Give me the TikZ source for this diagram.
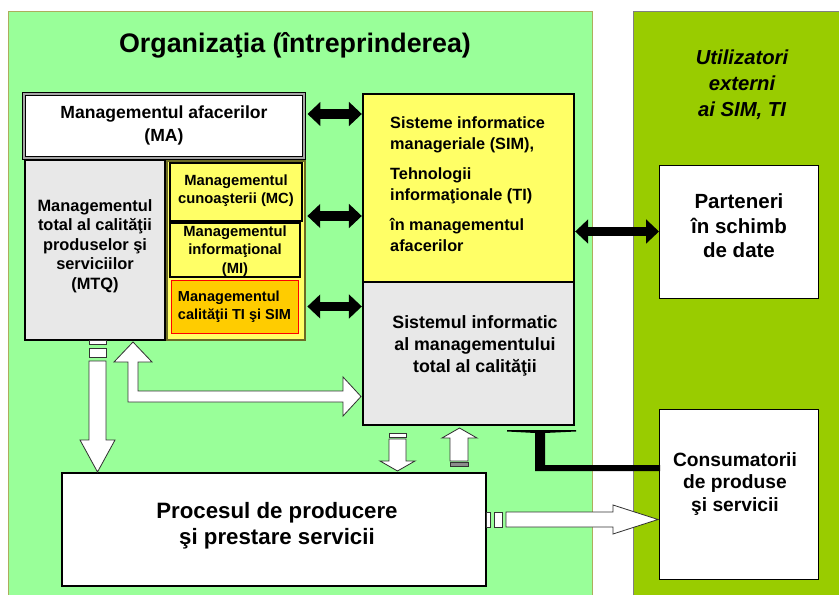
\documentclass[tikz,border=0pt]{standalone}
\usepackage{fontspec}
\setmainfont{Liberation Sans}
\usepackage{tikz}
\usetikzlibrary{positioning,fit,calc,arrows.meta}
\definecolor{orggreen}{HTML}{99FF99}
\definecolor{extgreen}{HTML}{99CC00}
\definecolor{simyellow}{HTML}{FFFF66}
\definecolor{mtiorange}{HTML}{FFCC00}
\definecolor{granite}{HTML}{E8E8E8}
\definecolor{olivefr}{HTML}{999933}
\newcommand{\fsz}[2]{\fontsize{#1}{#2}\selectfont\bfseries}

\begin{document}
\begin{tikzpicture}[x=0.03cm, y=-0.03cm, every fit/.style={inner sep=0pt, outer sep=0pt},
    box/.style={draw, line width=0.8pt},
    lbl/.style={align=center, inner sep=0pt},
    dblarr/.style={line width=7.7pt, {Triangle[length=11pt,width=20pt]}-{Triangle[length=11pt,width=20pt]}},
    whitearr/.style={draw=black!80, line width=0.7pt, fill=white}]
  \useasboundingbox (0,0) rectangle (839,595);
  % panels
  \fill[orggreen] (8,11) rectangle (592,595);
  \draw[olivefr!80, line width=0.6pt] (8,595) -- (8,11) -- (592,11) -- (592,595);
  \fill[extgreen] (633,11) rectangle (839,595);
  \draw[gray, line width=0.5pt] (633,595) -- (633,11) -- (839,11);
  \node[lbl, font=\fsz{22.9}{27}] (org) at (295,45) {Organizaţia (întreprinderea)};
  \node[lbl, font=\fsz{17.3}{22}\itshape] (ext) at (742,85) {Utilizatori\\externi\\ ai SIM, TI};
  % left block
  \node[box, fill=white, line width=1.1pt, double=gray!70, double distance=0.9pt, fit={(24,94) (304,158)}] (ma) {};
  \node[lbl, font=\fsz{15}{19.6}] (matxt) at (164,125) {Managementul afacerilor\\(MA)};
  \node[box, fill=granite, line width=1.5pt, fit={(25,160) (165,340)}] (mtq) {};
  \node[lbl, font=\fsz{14}{16.6}] (mtqtxt) at (95,246) {Managementul\\total al calităţii\\produselor şi\\serviciilor\\(MTQ)};
  \node[draw=olivefr!70!black, line width=1.2pt, fill=simyellow, fit={(167,161) (305,340)}] (colfr) {};
  \node[box, fill=simyellow, line width=1pt, fit={(170,163) (302,221)}] (mc) {};
  \node[lbl, font=\fsz{12.6}{15.4}] (mctxt) at (236,191) {Managementul\\cunoaşterii (MC)};
  \node[box, fill=simyellow, line width=1pt, fit={(170,223) (300,277)}] (mi) {};
  \node[lbl, font=\fsz{12.6}{15.8}] (mitxt) at (235,251) {Managementul\\informaţional\\(MI)};
  \node[draw=red, line width=0.6pt, fill=mtiorange, fit={(171,280) (298,333)}] (mti) {};
  \node[lbl, align=left, font=\fsz{12.4}{15.4}] (mtitxt) at (234.5,307) {Managementul\\calităţii TI şi SIM};
  % right block
  \node[box, fill=simyellow, line width=2.5pt, fit={(363,94) (574,282)}] (sim) {};
  \node[lbl, align=left, anchor=west, font=\fsz{13.9}{17.5}] (simtxt) at (390,184) {Sisteme informatice\\manageriale (SIM),\\[8.5pt]Tehnologii\\informaţionale (TI)\\[8.5pt]în managementul\\afacerilor};
  \node[box, fill=granite, line width=2.5pt, fit={(363,282) (574,425)}] (simq) {};
  \node[lbl, font=\fsz{15.2}{18.8}] (simqtxt) at (475,346) {Sistemul informatic\\al managementului\\total al calităţii};
  \node[box, fill=white, line width=1pt, fit={(62,473) (486,586)}] (proc) {};
  \node[lbl, font=\fsz{19}{22.2}] (proctxt) at (277,526) {Procesul de producere\\şi prestare servicii};
  % external
  \node[box, fill=white, line width=0.6pt, fit={(659,165) (818,298)}] (part) {};
  \node[lbl, font=\fsz{17.5}{21}] (parttxt) at (739,226) {Parteneri\\în schimb\\ de date};
  \node[box, fill=white, line width=0.6pt, fit={(659,409) (818,579)}] (cons) {};
  \node[lbl, font=\fsz{16.4}{19.6}] (constxt) at (735,484) {Consumatorii\\de produse\\ şi servicii};
  % black links
  \draw[dblarr, shorten <=3pt, shorten >=1pt] ($(ma.east)+(0,-12)$) -- ($(ma.east -| sim.west)+(0,-12)$);
  \draw[dblarr, shorten <=2pt, shorten >=1pt] ($(mc.south -| colfr.east)+(0,-5)$) -- ($(mc.south -| sim.west)+(0,-5)$);
  \draw[dblarr, shorten <=2pt, shorten >=1pt] (mti.east -| colfr.east) -- (mti.east -| simq.west);
  \draw[dblarr, shorten <=1pt] (sim.east |- part.west) -- (part.west);
  \fill[black] (660,465) -- (545,465) -- (545,433) -- (576,431.5) -- (576,430) -- (507,430) -- (507,431.5) -- (535,433) -- (535,471) -- (660,471) -- cycle;
  % white block arrows
  \filldraw[whitearr] (89,340) rectangle (106,344);
  \filldraw[whitearr] (89,348) rectangle (106,357);
  \filldraw[whitearr] (89,361) -- (106,361) -- (106,440) -- (115,440) -- (97.5,472) -- (80,440) -- (89,440) -- cycle;
  \filldraw[whitearr] (133,342) -- (152,362) -- (138,362) -- (138,391) -- (343,391) -- (343,377) -- (361,396.5) -- (343,416) -- (343,402) -- (128,402) -- (128,362) -- (114,362) -- cycle;
  \filldraw[whitearr] (389,433) rectangle (406,437);
  \filldraw[whitearr] (389,439) -- (406,439) -- (406,461) -- (415,461) -- (397.5,471) -- (380,461) -- (389,461) -- cycle;
  \filldraw[whitearr] (459.5,428) -- (477,438) -- (468,438) -- (468,461) -- (450,461) -- (450,438) -- (442,438) -- cycle;
  \filldraw[draw=black!80, line width=0.7pt, fill=black!45] (450,462) rectangle (468,466.5);
  \filldraw[whitearr] (486,512) rectangle (490,527);
  \filldraw[whitearr] (494,512) rectangle (502,527);
  \filldraw[whitearr] (506,512) -- (613,512) -- (613,505) -- (658,519.5) -- (613,534) -- (613,527) -- (506,527) -- cycle;
\end{tikzpicture}
\end{document}
